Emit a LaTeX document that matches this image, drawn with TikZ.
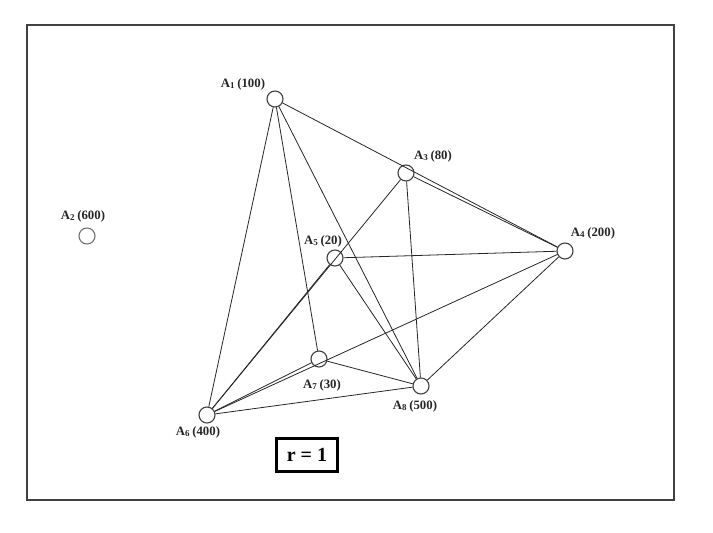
\documentclass[tikz,border=0pt]{standalone}
\usepackage{fontspec}
\setmainfont{Liberation Serif}
\begin{document}
\begin{tikzpicture}[x=1pt,y=-1pt,
  vtx/.style={circle,draw=black!75,line width=1.1pt,fill=white,minimum size=16pt,inner sep=0pt},
  lbl/.style={font=\fontsize{12.8}{15}\selectfont\bfseries,inner sep=0pt,text=black!85},
  edge/.style={draw=black!85,line width=0.8pt}]
\useasboundingbox (0,0) rectangle (713,533);
\draw[draw=black!75,line width=2pt] (27,25) rectangle (674,500);
% vertices
\node[vtx] (A1) at (275,99) {};
\node[vtx,draw=black!55] (A2) at (87,236) {};
\node[vtx] (A3) at (406,173) {};
\node[vtx] (A4) at (565,251) {};
\node[vtx] (A5) at (335,258) {};
\node[vtx] (A6) at (207,415) {};
\node[vtx] (A7) at (319,359) {};
\node[vtx] (A8) at (421,386) {};
% edges
\begin{scope}[every path/.style={edge}]
\draw (A1) -- (A4);
\draw (A1) -- (A6);
\draw (A1) -- (A7);
\draw (A1) -- (A8);
\draw (A3) -- (A4);
\draw (A3) -- (A6);
\draw (A3) -- (A8);
\draw (A5) -- (A4);
\draw (A5) -- (A6);
\draw (A5) -- (A8);
\draw (A4) -- (A6);
\draw (A4) -- (A8);
\draw (A6) -- (A7);
\draw (A6) -- (A8);
\draw (A7) -- (A8);
\end{scope}
% labels
\node[lbl] (L1) at (243,84) {A\textsubscript{1}\,(100)};
\node[lbl] (L2) at (83,216) {A\textsubscript{2}\,(600)};
\node[lbl] (L3) at (433,156) {A\textsubscript{3}\,(80)};
\node[lbl] (L4) at (593,233) {A\textsubscript{4}\,(200)};
\node[lbl] (L5) at (323,241) {A\textsubscript{5}\,(20)};
\node[lbl] (L6) at (198,432) {A\textsubscript{6}\,(400)};
\node[lbl] (L7) at (322,385) {A\textsubscript{7}\,(30)};
\node[lbl] (L8) at (415,406) {A\textsubscript{8}\,(500)};
% r = 1 box
\node[draw=black,line width=2.6pt,minimum width=61pt,minimum height=33pt,inner sep=0pt,
  font=\fontsize{20}{24}\selectfont\bfseries] (R) at (307,455) {r = 1};
\end{tikzpicture}
\end{document}
